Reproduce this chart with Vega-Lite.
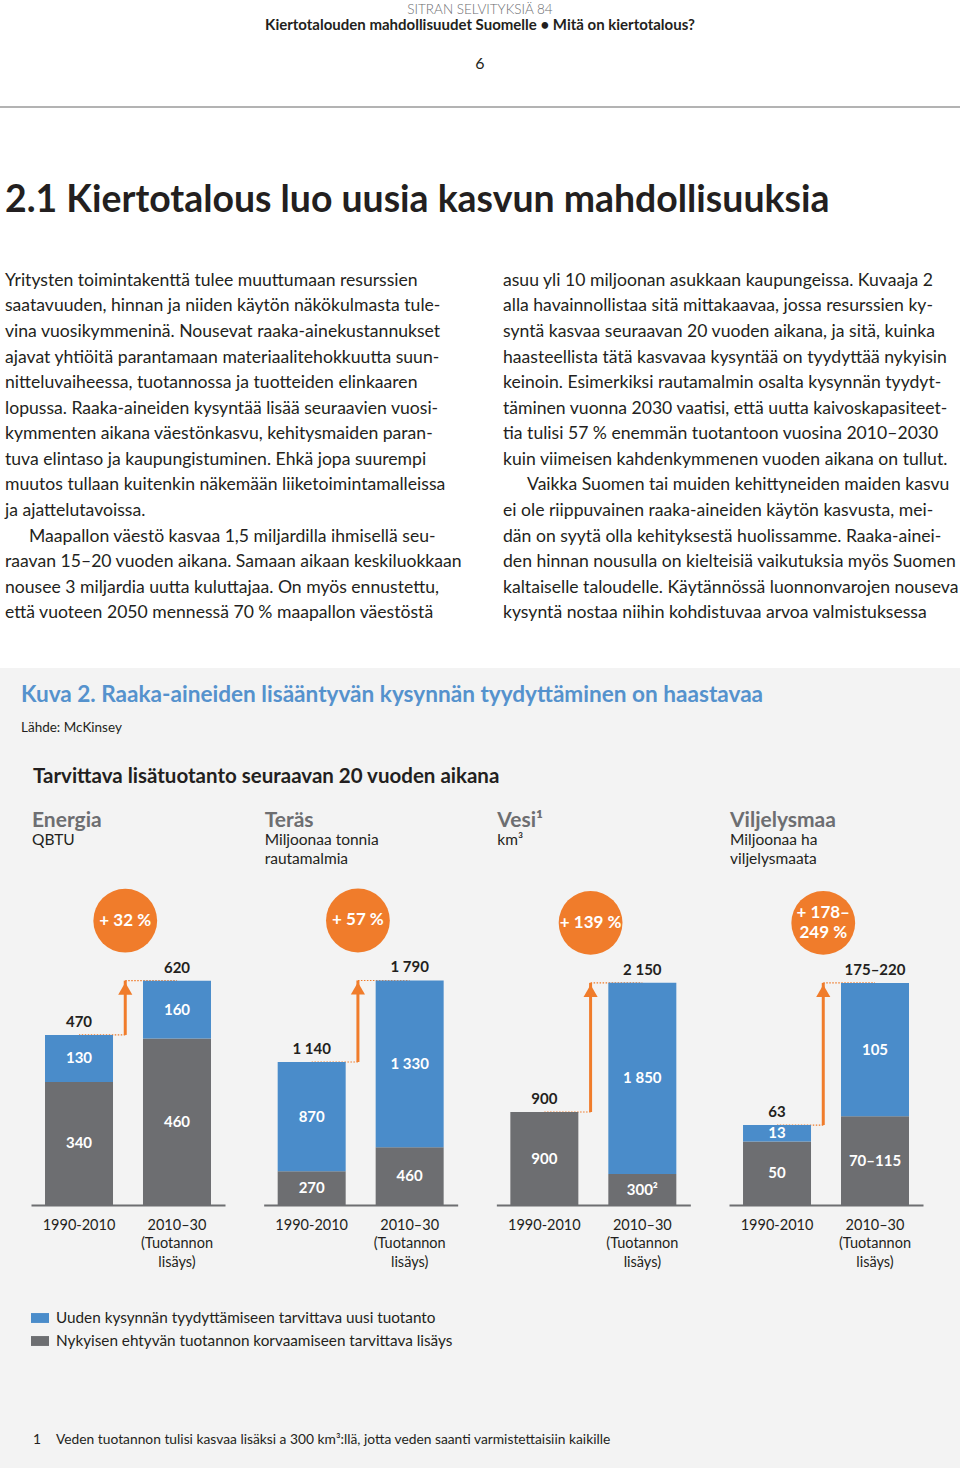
{
"$schema": "https://vega.github.io/schema/vega-lite/v6.json",
"background": "#f3f3f3",
"padding": 0,
"spacing": 0,
"config": {"view": {"stroke": null}, "font": "Lato", "title": {"font": "Lato", "subtitleFont": "Lato", "anchor": "start"},
  "axisX": {"domainColor": "#6d6e71", "domainWidth": 2, "ticks": false, "grid": false, "labelFont": "Lato", "labelFontSize": 14.5, "labelColor": "#231f20", "labelPadding": 13, "labelLineHeight": 18.5, "labelAngle": 0, "labelBaseline": "top", "labelOverlap": false, "labelBound": false, "labelFlush": false, "labelLimit": 300}},
"datasets": {
"para": [
{"col":"L","line":1,"text":"Yritysten toimintakenttä tulee muuttumaan resurssien"},
{"col":"L","line":2,"text":"saatavuuden, hinnan ja niiden käytön näkökulmasta tule-"},
{"col":"L","line":3,"text":"vina vuosikymmeninä. Nousevat raaka-ainekustannukset"},
{"col":"L","line":4,"text":"ajavat yhtiöitä parantamaan materiaalitehokkuutta suun-"},
{"col":"L","line":5,"text":"nitteluvaiheessa, tuotannossa ja tuotteiden elinkaaren"},
{"col":"L","line":6,"text":"lopussa. Raaka-aineiden kysyntää lisää seuraavien vuosi-"},
{"col":"L","line":7,"text":"kymmenten aikana väestönkasvu, kehitysmaiden paran-"},
{"col":"L","line":8,"text":"tuva elintaso ja kaupungistuminen. Ehkä jopa suurempi"},
{"col":"L","line":9,"text":"muutos tullaan kuitenkin näkemään liiketoimintamalleissa"},
{"col":"L","line":10,"text":"ja ajattelutavoissa."},
{"col":"L","line":11,"text":"Maapallon väestö kasvaa 1,5 miljardilla ihmisellä seu-"},
{"col":"L","line":12,"text":"raavan 15–20 vuoden aikana. Samaan aikaan keskiluokkaan"},
{"col":"L","line":13,"text":"nousee 3 miljardia uutta kuluttajaa. On myös ennustettu,"},
{"col":"L","line":14,"text":"että vuoteen 2050 mennessä 70 % maapallon väestöstä"},
{"col":"R","line":1,"text":"asuu yli 10 miljoonan asukkaan kaupungeissa. Kuvaaja 2"},
{"col":"R","line":2,"text":"alla havainnollistaa sitä mittakaavaa, jossa resurssien ky-"},
{"col":"R","line":3,"text":"syntä kasvaa seuraavan 20 vuoden aikana, ja sitä, kuinka"},
{"col":"R","line":4,"text":"haasteellista tätä kasvavaa kysyntää on tyydyttää nykyisin"},
{"col":"R","line":5,"text":"keinoin. Esimerkiksi rautamalmin osalta kysynnän tyydyt-"},
{"col":"R","line":6,"text":"täminen vuonna 2030 vaatisi, että uutta kaivoskapasiteet-"},
{"col":"R","line":7,"text":"tia tulisi 57 % enemmän tuotantoon vuosina 2010–2030"},
{"col":"R","line":8,"text":"kuin viimeisen kahdenkymmenen vuoden aikana on tullut."},
{"col":"R","line":9,"text":"Vaikka Suomen tai muiden kehittyneiden maiden kasvu"},
{"col":"R","line":10,"text":"ei ole riippuvainen raaka-aineiden käytön kasvusta, mei-"},
{"col":"R","line":11,"text":"dän on syytä olla kehityksestä huolissamme. Raaka-ainei-"},
{"col":"R","line":12,"text":"den hinnan nousulla on kielteisiä vaikutuksia myös Suomen"},
{"col":"R","line":13,"text":"kaltaiselle taloudelle. Käytännössä luonnonvarojen nouseva"},
{"col":"R","line":14,"text":"kysyntä nostaa niihin kohdistuvaa arvoa valmistuksessa"}
],
"bars": [
{"panel":"Energia","period":"1990-2010","type":"Nykyisen ehtyvän tuotannon korvaamiseen tarvittava lisäys","value":340,"label":"340"},
{"panel":"Energia","period":"1990-2010","type":"Uuden kysynnän tyydyttämiseen tarvittava uusi tuotanto","value":130,"label":"130"},
{"panel":"Energia","period":"2010–30","type":"Nykyisen ehtyvän tuotannon korvaamiseen tarvittava lisäys","value":460,"label":"460"},
{"panel":"Energia","period":"2010–30","type":"Uuden kysynnän tyydyttämiseen tarvittava uusi tuotanto","value":160,"label":"160"},
{"panel":"Teräs","period":"1990-2010","type":"Nykyisen ehtyvän tuotannon korvaamiseen tarvittava lisäys","value":270,"label":"270"},
{"panel":"Teräs","period":"1990-2010","type":"Uuden kysynnän tyydyttämiseen tarvittava uusi tuotanto","value":870,"label":"870"},
{"panel":"Teräs","period":"2010–30","type":"Nykyisen ehtyvän tuotannon korvaamiseen tarvittava lisäys","value":460,"label":"460"},
{"panel":"Teräs","period":"2010–30","type":"Uuden kysynnän tyydyttämiseen tarvittava uusi tuotanto","value":1330,"label":"1 330"},
{"panel":"Vesi","period":"1990-2010","type":"Nykyisen ehtyvän tuotannon korvaamiseen tarvittava lisäys","value":900,"label":"900"},
{"panel":"Vesi","period":"2010–30","type":"Nykyisen ehtyvän tuotannon korvaamiseen tarvittava lisäys","value":300,"label":"300²"},
{"panel":"Vesi","period":"2010–30","type":"Uuden kysynnän tyydyttämiseen tarvittava uusi tuotanto","value":1850,"label":"1 850"},
{"panel":"Viljelysmaa","period":"1990-2010","type":"Nykyisen ehtyvän tuotannon korvaamiseen tarvittava lisäys","value":50,"label":"50"},
{"panel":"Viljelysmaa","period":"1990-2010","type":"Uuden kysynnän tyydyttämiseen tarvittava uusi tuotanto","value":13,"label":"13"},
{"panel":"Viljelysmaa","period":"2010–30","type":"Nykyisen ehtyvän tuotannon korvaamiseen tarvittava lisäys","value":70,"label":"70–115"},
{"panel":"Viljelysmaa","period":"2010–30","type":"Uuden kysynnän tyydyttämiseen tarvittava uusi tuotanto","value":105,"label":"105"}
],
"totals": [
{"panel":"Energia","period":"1990-2010","total":470,"label":"470"},
{"panel":"Energia","period":"2010–30","total":620,"label":"620"},
{"panel":"Teräs","period":"1990-2010","total":1140,"label":"1 140"},
{"panel":"Teräs","period":"2010–30","total":1790,"label":"1 790"},
{"panel":"Vesi","period":"1990-2010","total":900,"label":"900"},
{"panel":"Vesi","period":"2010–30","total":2150,"label":"2 150"},
{"panel":"Viljelysmaa","period":"1990-2010","total":63,"label":"63"},
{"panel":"Viljelysmaa","period":"2010–30","total":175,"label":"175–220"}
],
"growth": [
{"panel":"Energia","period":"1990-2010","periodB":"2010–30","from":470,"to":620,"pct":"+ 32 %"},
{"panel":"Teräs","period":"1990-2010","periodB":"2010–30","from":1140,"to":1790,"pct":"+ 57 %"},
{"panel":"Vesi","period":"1990-2010","periodB":"2010–30","from":900,"to":2150,"pct":"+ 139 %"},
{"panel":"Viljelysmaa","period":"1990-2010","periodB":"2010–30","from":63,"to":175,"pct":"+ 178–\n249 %"}
]
},
"vconcat": [
{"width": 960, "height": 33, "view": {"fill": "white"}, "data": {"values": [{"a": "SITRAN SELVITYKSIÄ 84", "b": "Kiertotalouden mahdollisuudet Suomelle • Mitä on kiertotalous?"}]},
 "layer": [
  {"mark": {"type": "text", "fontSize": 13.5, "fontWeight": 300, "color": "#6d6e71", "baseline": "bottom"}, "encoding": {"text": {"field": "a"}}},
  {"mark": {"type": "text", "fontSize": 15, "fontWeight": "bold", "color": "#231f20", "baseline": "top", "dy": 1}, "encoding": {"text": {"field": "b"}}}
 ]},
{"width": 960, "height": 62, "view": {"fill": "white"}, "data": {"values": [{"t": "6"}]}, "mark": {"type": "text", "fontSize": 16, "color": "#231f20", "baseline": "middle"}, "encoding": {"text": {"field": "t"}}},
{"width": 960, "height": 11, "view": {"fill": "white"}, "data": {"values": [{}]}, "mark": {"type": "text", "text": "", "fontSize": 1}},
{"width": 960, "height": 2, "view": {"fill": "#b3b3b3"}, "data": {"values": [{}]}, "mark": {"type": "text", "text": "", "fontSize": 1}},
{"width": 960, "height": 26, "view": {"fill": "white"}, "data": {"values": [{}]}, "mark": {"type": "text", "text": "", "fontSize": 1}},
{"width": 960, "height": 134, "view": {"fill": "white"}, "data": {"values": [{"col": "L", "t": "2.1 Kiertotalous luo uusia kasvun mahdollisuuksia"}]},
 "mark": {"type": "text", "fontSize": 37.4, "fontWeight": "bold", "color": "#231f20", "align": "left", "baseline": "middle"},
 "encoding": {"x": {"field": "col", "type": "nominal", "bandPosition": 0, "axis": null, "scale": {"type": "band", "domain": ["L", "R"], "paddingInner": 0.0924, "paddingOuter": 0.01004}}, "text": {"field": "t"}}},
{"width": 960, "height": 358, "view": {"fill": "white"}, "data": {"name": "para"},
 "encoding": {"x": {"field": "col", "type": "nominal", "bandPosition": 0, "axis": null, "scale": {"type": "band", "domain": ["L", "R"], "paddingInner": 0.0924, "paddingOuter": 0.01004}},
   "y": {"field": "line", "type": "ordinal", "axis": null, "scale": {"domain": [1,2,3,4,5,6,7,8,9,10,11,12,13,14]}},
   "text": {"field": "text"}},
 "layer": [
  {"transform": [{"filter": "!((datum.col == 'L' && datum.line == 11) || (datum.col == 'R' && datum.line == 9))"}],
   "mark": {"type": "text", "fontSize": 17.6, "color": "#231f20", "align": "left", "baseline": "middle"}},
  {"transform": [{"filter": "(datum.col == 'L' && datum.line == 11) || (datum.col == 'R' && datum.line == 9)"}],
   "mark": {"type": "text", "fontSize": 17.6, "color": "#231f20", "align": "left", "baseline": "middle", "dx": 24}}
 ]},
{"width": 960, "height": 42, "view": {"fill": "white"}, "data": {"values": [{}]}, "mark": {"type": "text", "text": "", "fontSize": 1}},
{"width": 960, "height": 15, "data": {"values": [{}]}, "mark": {"type": "text", "text": "", "fontSize": 1}},
{"spacing": 0, "hconcat": [
 {"width": 21, "height": 10, "data": {"values": [{}]}, "mark": {"type": "text", "text": "", "fontSize": 1}},
 {"title": {"text": "Kuva 2. Raaka-aineiden lisääntyvän kysynnän tyydyttäminen on haastavaa", "subtitle": "Lähde: McKinsey", "anchor": "start", "dx": -10, "fontSize": 22.6, "fontWeight": "bold", "color": "#5592cd", "subtitleFontSize": 13.5, "subtitleColor": "#231f20", "subtitlePadding": 14, "offset": 33},
  "spacing": 59,
  "vconcat": [
   {"title": {"text": "Tarvittava lisätuotanto seuraavan 20 vuoden aikana", "anchor": "start", "fontSize": 20.5, "fontWeight": "bold", "color": "#231f20", "offset": 22, "dx": 2},
    "spacing": 38.67, "bounds": "flush",
    "resolve": {"legend": {"color": "independent"}},
    "hconcat": [
     {"width": 194, "height": 330,
      "title": {"text": "Energia", "subtitle": ["QBTU"], "offset": 27, "fontSize": 21, "fontWeight": "bold", "color": "#6d6e71", "subtitleFontSize": 15.5, "subtitleColor": "#231f20", "subtitlePadding": 2, "subtitleLineHeight": 19, "dx": 1},
      "layer": [
       {"data": {"name": "growth"}, "transform": [{"filter": "datum.panel == 'Energia'"}], "mark": {"type": "rule", "color": "#f07c2b", "strokeWidth": 1.2, "strokeDash": [1.5, 1.5]},
        "encoding": {"x": {"field": "period", "type": "nominal", "bandPosition": 1.18, "title": null, "axis": {"labelExpr": "datum.value == '2010–30' ? ['2010–30', '(Tuotannon', 'lisäys)'] : datum.value"}, "scale": {"type": "band", "domain": ["1990-2010", "2010–30"], "paddingInner": 0.306, "paddingOuter": 0.143}}, "x2": {"field": "period"}, "y": {"field": "from", "type": "quantitative", "axis": null, "scale": {"domain": [0, 912], "nice": false}}}},
       {"data": {"name": "growth"}, "transform": [{"filter": "datum.panel == 'Energia'"}], "mark": {"type": "rule", "color": "#f07c2b", "strokeWidth": 1.2, "strokeDash": [1.5, 1.5]},
        "encoding": {"x": {"field": "period", "type": "nominal", "bandPosition": 1.18, "title": null, "axis": {"labelExpr": "datum.value == '2010–30' ? ['2010–30', '(Tuotannon', 'lisäys)'] : datum.value"}, "scale": {"type": "band", "domain": ["1990-2010", "2010–30"], "paddingInner": 0.306, "paddingOuter": 0.143}}, "x2": {"field": "periodB"}, "y": {"field": "to", "type": "quantitative", "axis": null, "scale": {"domain": [0, 912], "nice": false}}}},
       {"data": {"name": "bars"}, "transform": [{"filter": "datum.panel == 'Energia'"}], "mark": {"type": "bar"},
        "encoding": {"x": {"field": "period", "type": "nominal", "title": null, "axis": {"labelExpr": "datum.value == '2010–30' ? ['2010–30', '(Tuotannon', 'lisäys)'] : datum.value"}, "scale": {"type": "band", "domain": ["1990-2010", "2010–30"], "paddingInner": 0.306, "paddingOuter": 0.143}},
         "y": {"field": "value", "type": "quantitative", "stack": "zero", "axis": null, "scale": {"domain": [0, 912], "nice": false}},
         "color": {"field": "type", "type": "nominal", "scale": {"domain": ["Uuden kysynnän tyydyttämiseen tarvittava uusi tuotanto", "Nykyisen ehtyvän tuotannon korvaamiseen tarvittava lisäys"], "range": ["#4a8cca", "#6d6e71"]},
           "legend": {"orient": "bottom", "direction": "vertical", "title": null, "symbolType": "M-1,-0.55H1V0.55H-1Z", "symbolSize": 324, "symbolStrokeWidth": 0, "labelFont": "Lato", "labelFontSize": 15.3, "labelColor": "#231f20", "labelLimit": 600, "rowPadding": 5, "offset": 40, "labelOffset": 7}},
         "order": {"field": "type", "sort": "ascending"}}},
       {"data": {"name": "bars"}, "transform": [{"filter": "datum.panel == 'Energia'"}, {"stack": "value", "groupby": ["period"], "sort": [{"field": "type", "order": "ascending"}], "as": ["v0", "v1"]}, {"fold": ["v0", "v1"], "as": ["edge", "pos"]}, {"aggregate": [{"op": "mean", "field": "pos", "as": "mid"}], "groupby": ["period", "label"]}],
        "mark": {"type": "text", "color": "white", "fontWeight": "bold", "fontSize": 15, "baseline": "middle"},
        "encoding": {"x": {"field": "period", "type": "nominal", "title": null, "axis": {"labelExpr": "datum.value == '2010–30' ? ['2010–30', '(Tuotannon', 'lisäys)'] : datum.value"}, "scale": {"type": "band", "domain": ["1990-2010", "2010–30"], "paddingInner": 0.306, "paddingOuter": 0.143}}, "y": {"field": "mid", "type": "quantitative", "axis": null, "scale": {"domain": [0, 912], "nice": false}}, "text": {"field": "label"}}},
       {"data": {"name": "totals"}, "transform": [{"filter": "datum.panel == 'Energia'"}],
        "mark": {"type": "text", "color": "#231f20", "fontWeight": "bold", "fontSize": 15, "baseline": "bottom", "dy": -5},
        "encoding": {"x": {"field": "period", "type": "nominal", "title": null, "axis": {"labelExpr": "datum.value == '2010–30' ? ['2010–30', '(Tuotannon', 'lisäys)'] : datum.value"}, "scale": {"type": "band", "domain": ["1990-2010", "2010–30"], "paddingInner": 0.306, "paddingOuter": 0.143}}, "y": {"field": "total", "type": "quantitative", "axis": null, "scale": {"domain": [0, 912], "nice": false}}, "text": {"field": "label"}}},
       {"data": {"name": "growth"}, "transform": [{"filter": "datum.panel == 'Energia'"}], "mark": {"type": "rule", "color": "#f07c2b", "strokeWidth": 3},
        "encoding": {"x": {"field": "period", "type": "nominal", "bandPosition": 1.18, "title": null, "axis": {"labelExpr": "datum.value == '2010–30' ? ['2010–30', '(Tuotannon', 'lisäys)'] : datum.value"}, "scale": {"type": "band", "domain": ["1990-2010", "2010–30"], "paddingInner": 0.306, "paddingOuter": 0.143}}, "y": {"field": "from", "type": "quantitative", "axis": null, "scale": {"domain": [0, 912], "nice": false}}, "y2": {"field": "to"}}},
       {"data": {"name": "growth"}, "transform": [{"filter": "datum.panel == 'Energia'"}], "mark": {"type": "point", "shape": "triangle-up", "filled": true, "opacity": 1, "color": "#f07c2b", "size": 200, "yOffset": 8},
        "encoding": {"x": {"field": "period", "type": "nominal", "bandPosition": 1.18, "title": null, "axis": {"labelExpr": "datum.value == '2010–30' ? ['2010–30', '(Tuotannon', 'lisäys)'] : datum.value"}, "scale": {"type": "band", "domain": ["1990-2010", "2010–30"], "paddingInner": 0.306, "paddingOuter": 0.143}}, "y": {"field": "to", "type": "quantitative", "axis": null, "scale": {"domain": [0, 912], "nice": false}}}},
       {"data": {"name": "growth"}, "transform": [{"filter": "datum.panel == 'Energia'"}], "mark": {"type": "circle", "opacity": 1, "color": "#f07c2b", "size": 4070, "yOffset": -60},
        "encoding": {"x": {"field": "period", "type": "nominal", "bandPosition": 1.18, "title": null, "axis": {"labelExpr": "datum.value == '2010–30' ? ['2010–30', '(Tuotannon', 'lisäys)'] : datum.value"}, "scale": {"type": "band", "domain": ["1990-2010", "2010–30"], "paddingInner": 0.306, "paddingOuter": 0.143}}, "y": {"field": "to", "type": "quantitative", "axis": null, "scale": {"domain": [0, 912], "nice": false}}}},
       {"data": {"name": "growth"}, "transform": [{"filter": "datum.panel == 'Energia'"}], "mark": {"type": "text", "color": "white", "fontWeight": "bold", "fontSize": 17, "baseline": "middle", "lineBreak": "\n", "lineHeight": 20, "yOffset": -60},
        "encoding": {"x": {"field": "period", "type": "nominal", "bandPosition": 1.18, "title": null, "axis": {"labelExpr": "datum.value == '2010–30' ? ['2010–30', '(Tuotannon', 'lisäys)'] : datum.value"}, "scale": {"type": "band", "domain": ["1990-2010", "2010–30"], "paddingInner": 0.306, "paddingOuter": 0.143}}, "y": {"field": "to", "type": "quantitative", "axis": null, "scale": {"domain": [0, 912], "nice": false}}, "text": {"field": "pct"}}}
      ]},
     {"width": 194, "height": 330,
      "title": {"text": "Teräs", "subtitle": ["Miljoonaa tonnia", "rautamalmia"], "offset": 8, "fontSize": 21, "fontWeight": "bold", "color": "#6d6e71", "subtitleFontSize": 15.5, "subtitleColor": "#231f20", "subtitlePadding": 2, "subtitleLineHeight": 19, "dx": 1},
      "layer": [
       {"data": {"name": "growth"}, "transform": [{"filter": "datum.panel == 'Teräs'"}], "mark": {"type": "rule", "color": "#f07c2b", "strokeWidth": 1.2, "strokeDash": [1.5, 1.5]},
        "encoding": {"x": {"field": "period", "type": "nominal", "bandPosition": 1.18, "title": null, "axis": {"labelExpr": "datum.value == '2010–30' ? ['2010–30', '(Tuotannon', 'lisäys)'] : datum.value"}, "scale": {"type": "band", "domain": ["1990-2010", "2010–30"], "paddingInner": 0.306, "paddingOuter": 0.143}}, "x2": {"field": "period"}, "y": {"field": "from", "type": "quantitative", "axis": null, "scale": {"domain": [0, 2631], "nice": false}}}},
       {"data": {"name": "growth"}, "transform": [{"filter": "datum.panel == 'Teräs'"}], "mark": {"type": "rule", "color": "#f07c2b", "strokeWidth": 1.2, "strokeDash": [1.5, 1.5]},
        "encoding": {"x": {"field": "period", "type": "nominal", "bandPosition": 1.18, "title": null, "axis": {"labelExpr": "datum.value == '2010–30' ? ['2010–30', '(Tuotannon', 'lisäys)'] : datum.value"}, "scale": {"type": "band", "domain": ["1990-2010", "2010–30"], "paddingInner": 0.306, "paddingOuter": 0.143}}, "x2": {"field": "periodB"}, "y": {"field": "to", "type": "quantitative", "axis": null, "scale": {"domain": [0, 2631], "nice": false}}}},
       {"data": {"name": "bars"}, "transform": [{"filter": "datum.panel == 'Teräs'"}], "mark": {"type": "bar"},
        "encoding": {"x": {"field": "period", "type": "nominal", "title": null, "axis": {"labelExpr": "datum.value == '2010–30' ? ['2010–30', '(Tuotannon', 'lisäys)'] : datum.value"}, "scale": {"type": "band", "domain": ["1990-2010", "2010–30"], "paddingInner": 0.306, "paddingOuter": 0.143}},
         "y": {"field": "value", "type": "quantitative", "stack": "zero", "axis": null, "scale": {"domain": [0, 2631], "nice": false}},
         "color": {"field": "type", "type": "nominal", "scale": {"domain": ["Uuden kysynnän tyydyttämiseen tarvittava uusi tuotanto", "Nykyisen ehtyvän tuotannon korvaamiseen tarvittava lisäys"], "range": ["#4a8cca", "#6d6e71"]}, "legend": null},
         "order": {"field": "type", "sort": "ascending"}}},
       {"data": {"name": "bars"}, "transform": [{"filter": "datum.panel == 'Teräs'"}, {"stack": "value", "groupby": ["period"], "sort": [{"field": "type", "order": "ascending"}], "as": ["v0", "v1"]}, {"fold": ["v0", "v1"], "as": ["edge", "pos"]}, {"aggregate": [{"op": "mean", "field": "pos", "as": "mid"}], "groupby": ["period", "label"]}],
        "mark": {"type": "text", "color": "white", "fontWeight": "bold", "fontSize": 15, "baseline": "middle"},
        "encoding": {"x": {"field": "period", "type": "nominal", "title": null, "axis": {"labelExpr": "datum.value == '2010–30' ? ['2010–30', '(Tuotannon', 'lisäys)'] : datum.value"}, "scale": {"type": "band", "domain": ["1990-2010", "2010–30"], "paddingInner": 0.306, "paddingOuter": 0.143}}, "y": {"field": "mid", "type": "quantitative", "axis": null, "scale": {"domain": [0, 2631], "nice": false}}, "text": {"field": "label"}}},
       {"data": {"name": "totals"}, "transform": [{"filter": "datum.panel == 'Teräs'"}],
        "mark": {"type": "text", "color": "#231f20", "fontWeight": "bold", "fontSize": 15, "baseline": "bottom", "dy": -5},
        "encoding": {"x": {"field": "period", "type": "nominal", "title": null, "axis": {"labelExpr": "datum.value == '2010–30' ? ['2010–30', '(Tuotannon', 'lisäys)'] : datum.value"}, "scale": {"type": "band", "domain": ["1990-2010", "2010–30"], "paddingInner": 0.306, "paddingOuter": 0.143}}, "y": {"field": "total", "type": "quantitative", "axis": null, "scale": {"domain": [0, 2631], "nice": false}}, "text": {"field": "label"}}},
       {"data": {"name": "growth"}, "transform": [{"filter": "datum.panel == 'Teräs'"}], "mark": {"type": "rule", "color": "#f07c2b", "strokeWidth": 3},
        "encoding": {"x": {"field": "period", "type": "nominal", "bandPosition": 1.18, "title": null, "axis": {"labelExpr": "datum.value == '2010–30' ? ['2010–30', '(Tuotannon', 'lisäys)'] : datum.value"}, "scale": {"type": "band", "domain": ["1990-2010", "2010–30"], "paddingInner": 0.306, "paddingOuter": 0.143}}, "y": {"field": "from", "type": "quantitative", "axis": null, "scale": {"domain": [0, 2631], "nice": false}}, "y2": {"field": "to"}}},
       {"data": {"name": "growth"}, "transform": [{"filter": "datum.panel == 'Teräs'"}], "mark": {"type": "point", "shape": "triangle-up", "filled": true, "opacity": 1, "color": "#f07c2b", "size": 200, "yOffset": 8},
        "encoding": {"x": {"field": "period", "type": "nominal", "bandPosition": 1.18, "title": null, "axis": {"labelExpr": "datum.value == '2010–30' ? ['2010–30', '(Tuotannon', 'lisäys)'] : datum.value"}, "scale": {"type": "band", "domain": ["1990-2010", "2010–30"], "paddingInner": 0.306, "paddingOuter": 0.143}}, "y": {"field": "to", "type": "quantitative", "axis": null, "scale": {"domain": [0, 2631], "nice": false}}}},
       {"data": {"name": "growth"}, "transform": [{"filter": "datum.panel == 'Teräs'"}], "mark": {"type": "circle", "opacity": 1, "color": "#f07c2b", "size": 4070, "yOffset": -60},
        "encoding": {"x": {"field": "period", "type": "nominal", "bandPosition": 1.18, "title": null, "axis": {"labelExpr": "datum.value == '2010–30' ? ['2010–30', '(Tuotannon', 'lisäys)'] : datum.value"}, "scale": {"type": "band", "domain": ["1990-2010", "2010–30"], "paddingInner": 0.306, "paddingOuter": 0.143}}, "y": {"field": "to", "type": "quantitative", "axis": null, "scale": {"domain": [0, 2631], "nice": false}}}},
       {"data": {"name": "growth"}, "transform": [{"filter": "datum.panel == 'Teräs'"}], "mark": {"type": "text", "color": "white", "fontWeight": "bold", "fontSize": 17, "baseline": "middle", "lineBreak": "\n", "lineHeight": 20, "yOffset": -60},
        "encoding": {"x": {"field": "period", "type": "nominal", "bandPosition": 1.18, "title": null, "axis": {"labelExpr": "datum.value == '2010–30' ? ['2010–30', '(Tuotannon', 'lisäys)'] : datum.value"}, "scale": {"type": "band", "domain": ["1990-2010", "2010–30"], "paddingInner": 0.306, "paddingOuter": 0.143}}, "y": {"field": "to", "type": "quantitative", "axis": null, "scale": {"domain": [0, 2631], "nice": false}}, "text": {"field": "pct"}}}
      ]},
     {"width": 194, "height": 330,
      "title": {"text": "Vesi¹", "subtitle": ["km³"], "offset": 27, "fontSize": 21, "fontWeight": "bold", "color": "#6d6e71", "subtitleFontSize": 15.5, "subtitleColor": "#231f20", "subtitlePadding": 2, "subtitleLineHeight": 19, "dx": 1},
      "layer": [
       {"data": {"name": "growth"}, "transform": [{"filter": "datum.panel == 'Vesi'"}], "mark": {"type": "rule", "color": "#f07c2b", "strokeWidth": 1.2, "strokeDash": [1.5, 1.5]},
        "encoding": {"x": {"field": "period", "type": "nominal", "bandPosition": 1.18, "title": null, "axis": {"labelExpr": "datum.value == '2010–30' ? ['2010–30', '(Tuotannon', 'lisäys)'] : datum.value"}, "scale": {"type": "band", "domain": ["1990-2010", "2010–30"], "paddingInner": 0.306, "paddingOuter": 0.143}}, "x2": {"field": "period"}, "y": {"field": "from", "type": "quantitative", "axis": null, "scale": {"domain": [0, 3194], "nice": false}}}},
       {"data": {"name": "growth"}, "transform": [{"filter": "datum.panel == 'Vesi'"}], "mark": {"type": "rule", "color": "#f07c2b", "strokeWidth": 1.2, "strokeDash": [1.5, 1.5]},
        "encoding": {"x": {"field": "period", "type": "nominal", "bandPosition": 1.18, "title": null, "axis": {"labelExpr": "datum.value == '2010–30' ? ['2010–30', '(Tuotannon', 'lisäys)'] : datum.value"}, "scale": {"type": "band", "domain": ["1990-2010", "2010–30"], "paddingInner": 0.306, "paddingOuter": 0.143}}, "x2": {"field": "periodB"}, "y": {"field": "to", "type": "quantitative", "axis": null, "scale": {"domain": [0, 3194], "nice": false}}}},
       {"data": {"name": "bars"}, "transform": [{"filter": "datum.panel == 'Vesi'"}], "mark": {"type": "bar"},
        "encoding": {"x": {"field": "period", "type": "nominal", "title": null, "axis": {"labelExpr": "datum.value == '2010–30' ? ['2010–30', '(Tuotannon', 'lisäys)'] : datum.value"}, "scale": {"type": "band", "domain": ["1990-2010", "2010–30"], "paddingInner": 0.306, "paddingOuter": 0.143}},
         "y": {"field": "value", "type": "quantitative", "stack": "zero", "axis": null, "scale": {"domain": [0, 3194], "nice": false}},
         "color": {"field": "type", "type": "nominal", "scale": {"domain": ["Uuden kysynnän tyydyttämiseen tarvittava uusi tuotanto", "Nykyisen ehtyvän tuotannon korvaamiseen tarvittava lisäys"], "range": ["#4a8cca", "#6d6e71"]}, "legend": null},
         "order": {"field": "type", "sort": "ascending"}}},
       {"data": {"name": "bars"}, "transform": [{"filter": "datum.panel == 'Vesi'"}, {"stack": "value", "groupby": ["period"], "sort": [{"field": "type", "order": "ascending"}], "as": ["v0", "v1"]}, {"fold": ["v0", "v1"], "as": ["edge", "pos"]}, {"aggregate": [{"op": "mean", "field": "pos", "as": "mid"}], "groupby": ["period", "label"]}],
        "mark": {"type": "text", "color": "white", "fontWeight": "bold", "fontSize": 15, "baseline": "middle"},
        "encoding": {"x": {"field": "period", "type": "nominal", "title": null, "axis": {"labelExpr": "datum.value == '2010–30' ? ['2010–30', '(Tuotannon', 'lisäys)'] : datum.value"}, "scale": {"type": "band", "domain": ["1990-2010", "2010–30"], "paddingInner": 0.306, "paddingOuter": 0.143}}, "y": {"field": "mid", "type": "quantitative", "axis": null, "scale": {"domain": [0, 3194], "nice": false}}, "text": {"field": "label"}}},
       {"data": {"name": "totals"}, "transform": [{"filter": "datum.panel == 'Vesi'"}],
        "mark": {"type": "text", "color": "#231f20", "fontWeight": "bold", "fontSize": 15, "baseline": "bottom", "dy": -5},
        "encoding": {"x": {"field": "period", "type": "nominal", "title": null, "axis": {"labelExpr": "datum.value == '2010–30' ? ['2010–30', '(Tuotannon', 'lisäys)'] : datum.value"}, "scale": {"type": "band", "domain": ["1990-2010", "2010–30"], "paddingInner": 0.306, "paddingOuter": 0.143}}, "y": {"field": "total", "type": "quantitative", "axis": null, "scale": {"domain": [0, 3194], "nice": false}}, "text": {"field": "label"}}},
       {"data": {"name": "growth"}, "transform": [{"filter": "datum.panel == 'Vesi'"}], "mark": {"type": "rule", "color": "#f07c2b", "strokeWidth": 3},
        "encoding": {"x": {"field": "period", "type": "nominal", "bandPosition": 1.18, "title": null, "axis": {"labelExpr": "datum.value == '2010–30' ? ['2010–30', '(Tuotannon', 'lisäys)'] : datum.value"}, "scale": {"type": "band", "domain": ["1990-2010", "2010–30"], "paddingInner": 0.306, "paddingOuter": 0.143}}, "y": {"field": "from", "type": "quantitative", "axis": null, "scale": {"domain": [0, 3194], "nice": false}}, "y2": {"field": "to"}}},
       {"data": {"name": "growth"}, "transform": [{"filter": "datum.panel == 'Vesi'"}], "mark": {"type": "point", "shape": "triangle-up", "filled": true, "opacity": 1, "color": "#f07c2b", "size": 200, "yOffset": 8},
        "encoding": {"x": {"field": "period", "type": "nominal", "bandPosition": 1.18, "title": null, "axis": {"labelExpr": "datum.value == '2010–30' ? ['2010–30', '(Tuotannon', 'lisäys)'] : datum.value"}, "scale": {"type": "band", "domain": ["1990-2010", "2010–30"], "paddingInner": 0.306, "paddingOuter": 0.143}}, "y": {"field": "to", "type": "quantitative", "axis": null, "scale": {"domain": [0, 3194], "nice": false}}}},
       {"data": {"name": "growth"}, "transform": [{"filter": "datum.panel == 'Vesi'"}], "mark": {"type": "circle", "opacity": 1, "color": "#f07c2b", "size": 4070, "yOffset": -60},
        "encoding": {"x": {"field": "period", "type": "nominal", "bandPosition": 1.18, "title": null, "axis": {"labelExpr": "datum.value == '2010–30' ? ['2010–30', '(Tuotannon', 'lisäys)'] : datum.value"}, "scale": {"type": "band", "domain": ["1990-2010", "2010–30"], "paddingInner": 0.306, "paddingOuter": 0.143}}, "y": {"field": "to", "type": "quantitative", "axis": null, "scale": {"domain": [0, 3194], "nice": false}}}},
       {"data": {"name": "growth"}, "transform": [{"filter": "datum.panel == 'Vesi'"}], "mark": {"type": "text", "color": "white", "fontWeight": "bold", "fontSize": 17, "baseline": "middle", "lineBreak": "\n", "lineHeight": 20, "yOffset": -60},
        "encoding": {"x": {"field": "period", "type": "nominal", "bandPosition": 1.18, "title": null, "axis": {"labelExpr": "datum.value == '2010–30' ? ['2010–30', '(Tuotannon', 'lisäys)'] : datum.value"}, "scale": {"type": "band", "domain": ["1990-2010", "2010–30"], "paddingInner": 0.306, "paddingOuter": 0.143}}, "y": {"field": "to", "type": "quantitative", "axis": null, "scale": {"domain": [0, 3194], "nice": false}}, "text": {"field": "pct"}}}
      ]},
     {"width": 194, "height": 330,
      "title": {"text": "Viljelysmaa", "subtitle": ["Miljoonaa ha", "viljelysmaata"], "offset": 8, "fontSize": 21, "fontWeight": "bold", "color": "#6d6e71", "subtitleFontSize": 15.5, "subtitleColor": "#231f20", "subtitlePadding": 2, "subtitleLineHeight": 19, "dx": 1},
      "layer": [
       {"data": {"name": "growth"}, "transform": [{"filter": "datum.panel == 'Viljelysmaa'"}], "mark": {"type": "rule", "color": "#f07c2b", "strokeWidth": 1.2, "strokeDash": [1.5, 1.5]},
        "encoding": {"x": {"field": "period", "type": "nominal", "bandPosition": 1.18, "title": null, "axis": {"labelExpr": "datum.value == '2010–30' ? ['2010–30', '(Tuotannon', 'lisäys)'] : datum.value"}, "scale": {"type": "band", "domain": ["1990-2010", "2010–30"], "paddingInner": 0.306, "paddingOuter": 0.143}}, "x2": {"field": "period"}, "y": {"field": "from", "type": "quantitative", "axis": null, "scale": {"domain": [0, 260], "nice": false}}}},
       {"data": {"name": "growth"}, "transform": [{"filter": "datum.panel == 'Viljelysmaa'"}], "mark": {"type": "rule", "color": "#f07c2b", "strokeWidth": 1.2, "strokeDash": [1.5, 1.5]},
        "encoding": {"x": {"field": "period", "type": "nominal", "bandPosition": 1.18, "title": null, "axis": {"labelExpr": "datum.value == '2010–30' ? ['2010–30', '(Tuotannon', 'lisäys)'] : datum.value"}, "scale": {"type": "band", "domain": ["1990-2010", "2010–30"], "paddingInner": 0.306, "paddingOuter": 0.143}}, "x2": {"field": "periodB"}, "y": {"field": "to", "type": "quantitative", "axis": null, "scale": {"domain": [0, 260], "nice": false}}}},
       {"data": {"name": "bars"}, "transform": [{"filter": "datum.panel == 'Viljelysmaa'"}], "mark": {"type": "bar"},
        "encoding": {"x": {"field": "period", "type": "nominal", "title": null, "axis": {"labelExpr": "datum.value == '2010–30' ? ['2010–30', '(Tuotannon', 'lisäys)'] : datum.value"}, "scale": {"type": "band", "domain": ["1990-2010", "2010–30"], "paddingInner": 0.306, "paddingOuter": 0.143}},
         "y": {"field": "value", "type": "quantitative", "stack": "zero", "axis": null, "scale": {"domain": [0, 260], "nice": false}},
         "color": {"field": "type", "type": "nominal", "scale": {"domain": ["Uuden kysynnän tyydyttämiseen tarvittava uusi tuotanto", "Nykyisen ehtyvän tuotannon korvaamiseen tarvittava lisäys"], "range": ["#4a8cca", "#6d6e71"]}, "legend": null},
         "order": {"field": "type", "sort": "ascending"}}},
       {"data": {"name": "bars"}, "transform": [{"filter": "datum.panel == 'Viljelysmaa'"}, {"stack": "value", "groupby": ["period"], "sort": [{"field": "type", "order": "ascending"}], "as": ["v0", "v1"]}, {"fold": ["v0", "v1"], "as": ["edge", "pos"]}, {"aggregate": [{"op": "mean", "field": "pos", "as": "mid"}], "groupby": ["period", "label"]}],
        "mark": {"type": "text", "color": "white", "fontWeight": "bold", "fontSize": 15, "baseline": "middle"},
        "encoding": {"x": {"field": "period", "type": "nominal", "title": null, "axis": {"labelExpr": "datum.value == '2010–30' ? ['2010–30', '(Tuotannon', 'lisäys)'] : datum.value"}, "scale": {"type": "band", "domain": ["1990-2010", "2010–30"], "paddingInner": 0.306, "paddingOuter": 0.143}}, "y": {"field": "mid", "type": "quantitative", "axis": null, "scale": {"domain": [0, 260], "nice": false}}, "text": {"field": "label"}}},
       {"data": {"name": "totals"}, "transform": [{"filter": "datum.panel == 'Viljelysmaa'"}],
        "mark": {"type": "text", "color": "#231f20", "fontWeight": "bold", "fontSize": 15, "baseline": "bottom", "dy": -5},
        "encoding": {"x": {"field": "period", "type": "nominal", "title": null, "axis": {"labelExpr": "datum.value == '2010–30' ? ['2010–30', '(Tuotannon', 'lisäys)'] : datum.value"}, "scale": {"type": "band", "domain": ["1990-2010", "2010–30"], "paddingInner": 0.306, "paddingOuter": 0.143}}, "y": {"field": "total", "type": "quantitative", "axis": null, "scale": {"domain": [0, 260], "nice": false}}, "text": {"field": "label"}}},
       {"data": {"name": "growth"}, "transform": [{"filter": "datum.panel == 'Viljelysmaa'"}], "mark": {"type": "rule", "color": "#f07c2b", "strokeWidth": 3},
        "encoding": {"x": {"field": "period", "type": "nominal", "bandPosition": 1.18, "title": null, "axis": {"labelExpr": "datum.value == '2010–30' ? ['2010–30', '(Tuotannon', 'lisäys)'] : datum.value"}, "scale": {"type": "band", "domain": ["1990-2010", "2010–30"], "paddingInner": 0.306, "paddingOuter": 0.143}}, "y": {"field": "from", "type": "quantitative", "axis": null, "scale": {"domain": [0, 260], "nice": false}}, "y2": {"field": "to"}}},
       {"data": {"name": "growth"}, "transform": [{"filter": "datum.panel == 'Viljelysmaa'"}], "mark": {"type": "point", "shape": "triangle-up", "filled": true, "opacity": 1, "color": "#f07c2b", "size": 200, "yOffset": 8},
        "encoding": {"x": {"field": "period", "type": "nominal", "bandPosition": 1.18, "title": null, "axis": {"labelExpr": "datum.value == '2010–30' ? ['2010–30', '(Tuotannon', 'lisäys)'] : datum.value"}, "scale": {"type": "band", "domain": ["1990-2010", "2010–30"], "paddingInner": 0.306, "paddingOuter": 0.143}}, "y": {"field": "to", "type": "quantitative", "axis": null, "scale": {"domain": [0, 260], "nice": false}}}},
       {"data": {"name": "growth"}, "transform": [{"filter": "datum.panel == 'Viljelysmaa'"}], "mark": {"type": "circle", "opacity": 1, "color": "#f07c2b", "size": 4070, "yOffset": -60},
        "encoding": {"x": {"field": "period", "type": "nominal", "bandPosition": 1.18, "title": null, "axis": {"labelExpr": "datum.value == '2010–30' ? ['2010–30', '(Tuotannon', 'lisäys)'] : datum.value"}, "scale": {"type": "band", "domain": ["1990-2010", "2010–30"], "paddingInner": 0.306, "paddingOuter": 0.143}}, "y": {"field": "to", "type": "quantitative", "axis": null, "scale": {"domain": [0, 260], "nice": false}}}},
       {"data": {"name": "growth"}, "transform": [{"filter": "datum.panel == 'Viljelysmaa'"}], "mark": {"type": "text", "color": "white", "fontWeight": "bold", "fontSize": 17, "baseline": "middle", "lineBreak": "\n", "lineHeight": 20, "yOffset": -60, "dy": -10},
        "encoding": {"x": {"field": "period", "type": "nominal", "bandPosition": 1.18, "title": null, "axis": {"labelExpr": "datum.value == '2010–30' ? ['2010–30', '(Tuotannon', 'lisäys)'] : datum.value"}, "scale": {"type": "band", "domain": ["1990-2010", "2010–30"], "paddingInner": 0.306, "paddingOuter": 0.143}}, "y": {"field": "to", "type": "quantitative", "axis": null, "scale": {"domain": [0, 260], "nice": false}}, "text": {"field": "pct"}}}
      ]}
    ]},
   {"width": 900, "height": 62, "data": {"values": [{"note": "1", "text": "Veden tuotannon tulisi kasvaa lisäksi a 300 km³:llä, jotta veden saanti varmistettaisiin kaikille"}]},
    "layer": [
     {"mark": {"type": "text", "align": "left", "baseline": "middle", "fontSize": 13.8, "color": "#231f20", "dx": 2},
      "encoding": {"x": {"field": "note", "type": "nominal", "bandPosition": 0, "axis": null, "scale": {"type": "band", "paddingInner": 0, "paddingOuter": 0}}, "text": {"field": "note"}}},
     {"mark": {"type": "text", "align": "left", "baseline": "middle", "fontSize": 13.8, "color": "#231f20", "dx": 25},
      "encoding": {"x": {"field": "note", "type": "nominal", "bandPosition": 0, "axis": null, "scale": {"type": "band", "paddingInner": 0, "paddingOuter": 0}}, "text": {"field": "text"}}}
    ]}
  ]}
]}
]
}
